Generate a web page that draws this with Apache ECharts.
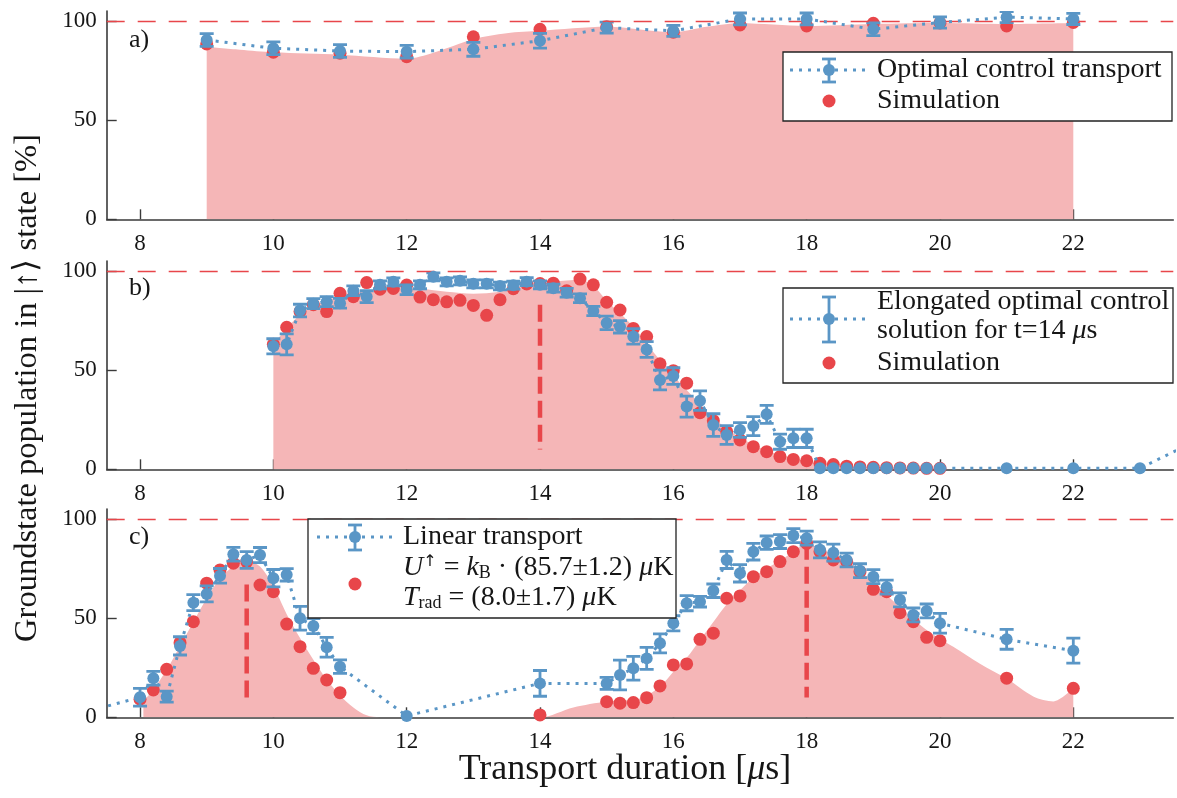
<!DOCTYPE html>
<html><head><meta charset="utf-8">
<script src="https://cdn.jsdelivr.net/npm/echarts@6/dist/echarts.min.js"></script>
<style>html,body{margin:0;padding:0;background:#fff}#c{width:1177px;height:798px}</style>
</head><body><div id="c"></div>
<script>
// ---------- tick labels ----------
const xTicks = [8, 10, 12, 14, 16, 18, 20, 22];
const yTicks = [0, 50, 100];

// ---------- panel a ----------
const aX    = [9, 10, 11, 12, 13, 14, 15, 16, 17, 18, 19, 20, 21, 22];
const aBlue = [90.4, 86.2, 84.8, 84.5, 85.7, 90, 96.6, 95, 101, 101, 95.8, 99.2, 101.9, 101];
const aErr  = [3.2, 3.2, 3.2, 3.2, 3.5, 3.7, 2.8, 2.8, 3, 3, 3.2, 2.8, 2.8, 2.8];
const aSim  = [88.4, 84.2, 83.7, 82, 92, 95.8, 97, 94.3, 98, 97.5, 98.8, 99, 97.5, 99.2];
const aFillX = [9, 9.5, 10, 11, 12, 12.4, 13, 13.5, 14, 15, 16, 16.5, 17, 18, 19, 20, 21, 22];
const aFillY = [87, 85.5, 84.2, 83, 81, 84, 90.8, 93.8, 95, 97, 94.3, 97, 98.8, 97.5, 98.5, 99, 98.5, 99];

// ---------- panel b ----------
const bX = [10.0, 10.2, 10.4, 10.6, 10.8, 11.0, 11.2, 11.4, 11.6, 11.8, 12.0, 12.2, 12.4, 12.6, 12.8,
            13.0, 13.2, 13.4, 13.6, 13.8, 14.0, 14.2, 14.4, 14.6, 14.8, 15.0, 15.2, 15.4, 15.6, 15.8,
            16.0, 16.2, 16.4, 16.6, 16.8, 17.0, 17.2, 17.4, 17.6, 17.8, 18.0, 18.2, 18.4, 18.6, 18.8,
            19.0, 19.2, 19.4, 19.6, 19.8, 20.0, 21, 22, 23, 24];
const bBlue = [62, 63, 80, 83.5, 84.5, 83.7, 90, 87, 93, 94.5, 90.5, 93, 97, 94.5, 95,
               93.5, 93.5, 92.4, 92.8, 94.6, 93, 91.3, 89, 86.2, 79.8, 73.8, 71.8, 67, 60.4, 45,
               47, 31.6, 34.6, 22.3, 17.3, 19.8, 21.8, 27.7, 13.9, 15.6, 15.6, 0.5, 0.5, 0.5, 0.5,
               0.5, 0.5, 0.5, 0.5, 0.5, 0.5, 0.5, 0.5, 0.5, 17];
const bErr  = [3.8, 5.3, 3.2, 2.5, 2.5, 2.5, 2.5, 3, 2, 2, 2.5, 2, 2, 2, 2,
               2, 2, 2, 2, 2, 2, 2, 2.2, 2.2, 2.3, 3.4, 3.1, 3.9, 4, 5,
               4.2, 5.3, 4.9, 5.7, 4.7, 3.7, 4.8, 4.5, 3.8, 4.6, 4.6, 0, 0, 0, 0,
               0, 0, 0, 0, 0, 0, 0, 0, 0, 0];
const bSimX = [10.0, 10.2, 10.4, 10.6, 10.8, 11.0, 11.2, 11.4, 11.6, 11.8, 12.0, 12.2, 12.4, 12.6, 12.8,
               13.0, 13.2, 13.4, 13.6, 13.8, 14.0, 14.2, 14.4, 14.6, 14.8, 15.0, 15.2, 15.4, 15.6, 15.8,
               16.0, 16.2, 16.4, 16.6, 16.8, 17.0, 17.2, 17.4, 17.6, 17.8, 18.0, 18.2, 18.4, 18.6, 18.8,
               19.0, 19.2, 19.4, 19.6, 19.8, 20.0];
const bSim  = [63, 71.6, 79.5, 83, 79.5, 88.7, 87, 94.1, 90.8, 91.2, 92.9, 86.8, 85.5, 84.4, 85.2,
               82.6, 77.6, 85.5, 91, 93.4, 93.6, 93.8, 90, 95.9, 93, 84.2, 80.3, 71, 66.9, 53.2,
               49.7, 43.4, 28.5, 24.5, 19, 14.8, 11.4, 8.9, 6.4, 5, 4.3, 3, 2.4, 1.6, 1.2,
               1, 0.8, 0.7, 0.6, 0.5, 0.5];
const bFillX = [10.0, 10.2, 10.4, 10.6, 10.8, 11.0, 11.4, 11.8, 12.2, 12.6, 13.0, 13.4, 13.8, 14.2,
                14.6, 14.8, 15.0, 15.4, 15.8, 16.2, 16.6, 17.0, 17.4, 17.8, 18.2, 18.6, 19.0, 20.0];
const bFillY = [63, 71, 78, 82.5, 85, 87.5, 90, 91.5, 91, 89.5, 88.5, 89.5, 92.5, 94.5,
                95.5, 92.5, 85, 72, 55, 40, 26, 16, 9.5, 5.5, 3, 1.6, 1, 0.5];
const bMark = [[14, 83, 10]];   // vertical marker: x, top, bottom

// ---------- panel c ----------
const cX = [7, 8.0, 8.2, 8.4, 8.6, 8.8, 9.0, 9.2, 9.4, 9.6, 9.8, 10.0, 10.2, 10.4, 10.6, 10.8, 11.0,
            12, 14, 15.0, 15.2, 15.4, 15.6, 15.8, 16.0, 16.2, 16.4, 16.6, 16.8, 17.0, 17.2, 17.4,
            17.6, 17.8, 18.0, 18.2, 18.4, 18.6, 18.8, 19.0, 19.2, 19.4, 19.6, 19.8, 20.0, 21, 22];
const cBlue = [1, 10.1, 19.7, 10.4, 36, 57.8, 62.2, 71.3, 82.2, 79.3, 81.8, 70.1, 71.8, 49.9, 46, 35.3, 25.5,
               0.7, 17.1, 17.1, 21.3, 24.7, 29.7, 37.3, 47.4, 57.5, 58.3, 63.8, 79.3, 72.6, 83.5, 88,
               88.6, 91.6, 90.3, 84.4, 83, 79.3, 73.9, 70.9, 65.6, 59.2, 51.6, 53.6, 47.4, 39.3, 33.6];
const cErr  = [0, 4.5, 3.5, 2.8, 4.6, 4, 4, 3.7, 3.5, 4.2, 3.8, 4.4, 3.1, 6, 3.8, 5, 3.4,
               0, 6.5, 3, 7.5, 6, 5.5, 4.8, 3.8, 3.8, 2.7, 3.4, 4.3, 4.4, 4.2, 3.4,
               3.5, 3.5, 3.5, 4, 4.3, 3.5, 3.5, 3.5, 3.5, 3.5, 3.5, 3.5, 5, 5, 6.3];
const cSimX = [8.0, 8.2, 8.4, 8.6, 8.8, 9.0, 9.2, 9.4, 9.6, 9.8, 10.0, 10.2, 10.4, 10.6, 10.8, 11.0,
               14, 15.0, 15.2, 15.4, 15.6, 15.8, 16.0, 16.2, 16.4, 16.6, 16.8, 17.0, 17.2, 17.4, 17.6,
               17.8, 18.0, 18.2, 18.4, 18.6, 18.8, 19.0, 19.2, 19.4, 19.6, 19.8, 20.0, 21, 22];
const cSim  = [9.1, 13.8, 24.2, 37.6, 48.2, 67.6, 74.3, 77.7, 78.5, 66.7, 63.3, 47, 35.6, 24.7, 18.8, 12.4,
               1.2, 7.9, 7.1, 7.4, 9.9, 15.8, 26.4, 26.9, 39.3, 42.4, 60, 61.2, 70.9, 73.4, 78.5,
               83.5, 87.7, 83.5, 79.3, 78.5, 73.4, 64.5, 63.3, 52.7, 48.2, 40.3, 38.6, 19.7, 14.6];
const cFillX = [8.05, 8.2, 8.4, 8.6, 8.8, 9.0, 9.2, 9.4, 9.6, 9.8, 10.0, 10.2, 10.4, 10.6, 10.8, 11.0,
                11.2, 11.4, 11.6, 14.0, 14.5, 15.0, 15.5, 15.8, 16.0, 16.2, 16.4, 16.6,
                16.8, 17.0, 17.2, 17.4, 17.6, 17.8, 18.0, 18.3, 18.6, 19.0, 19.4, 19.8, 20.2,
                20.6, 21.0, 21.4, 21.7, 22.0];
const cFillY = [8, 14, 24, 36, 48, 60, 70, 76, 78.5, 76, 66, 52, 40, 29, 19, 11,
                5, 1, 0, 0, 5, 8, 9.5, 15.5, 23, 30, 39, 48,
                57, 64, 70.5, 75, 79, 83.5, 87.5, 83.5, 79, 68, 55.5, 44, 35.5,
                27, 19.5, 10.5, 8, 14.6];
const cMark = [[9.6, 67, 10], [18, 88, 10]];

// ---------- styling ----------
const BLUE = '#5A96C6', RED = '#E8464A', PINK = '#F5B6B7', INK = '#161616', AX = '#3a3a3a';
const FONT = 'Liberation Serif';
const L = 106.7, W = 1066.6, H = 208.3, TOPS = [11, 261, 509];

const zip  = (xs, ys) => xs.map((x, i) => [x, ys[i]]);
const zip3 = (xs, ys, es) => xs.map((x, i) => [x, ys[i], es[i]]).filter(d => d[2] > 0);

function errItem(params, api) {
  const x = api.value(0), y = api.value(1), e = api.value(2);
  const lo = api.coord([x, y - e]), hi = api.coord([x, y + e]);
  const hw = 7, st = { stroke: BLUE, lineWidth: 2.8 };
  return { type: 'group', children: [
    { type: 'line', shape: { x1: lo[0], y1: lo[1], x2: hi[0], y2: hi[1] }, style: st },
    { type: 'line', shape: { x1: lo[0] - hw, y1: lo[1], x2: lo[0] + hw, y2: lo[1] }, style: st },
    { type: 'line', shape: { x1: hi[0] - hw, y1: hi[1], x2: hi[0] + hw, y2: hi[1] }, style: st }
  ]};
}
function markItem(params, api) {
  const x = api.value(0);
  const a = api.coord([x, api.value(1)]), b = api.coord([x, api.value(2)]);
  return { type: 'line', shape: { x1: a[0], y1: a[1], x2: b[0], y2: b[1] },
           style: { stroke: RED, lineWidth: 4.5, lineDash: [17, 7] } };
}

const grids = TOPS.map(t => ({ left: L, top: t, width: W, height: H }));
const xAxes = [0, 1, 2].map(i => ({
  gridIndex: i, type: 'value', min: 7.5, max: 23.5,
  axisLine: { show: true, onZero: false, lineStyle: { color: AX, width: 1.6 } },
  axisTick: { show: true, inside: true, length: 10, customValues: xTicks, lineStyle: { color: AX, width: 1.4 } },
  axisLabel: { customValues: xTicks, color: INK, fontFamily: FONT, fontSize: 23, margin: 13 },
  splitLine: { show: false }
}));
const yAxes = [0, 1, 2].map(i => ({
  gridIndex: i, type: 'value', min: 0, max: 105,
  axisLine: { show: true, onZero: false, lineStyle: { color: AX, width: 1.6 } },
  axisTick: { show: true, inside: true, length: 10, customValues: yTicks, lineStyle: { color: AX, width: 1.4 } },
  axisLabel: { customValues: yTicks, color: INK, fontFamily: FONT, fontSize: 23, margin: 10 },
  splitLine: { show: false }
}));

function panelSeries(i, fillX, fillY, simX, sim, X, blue, err, marks) {
  const s = [];
  s.push({ type: 'line', xAxisIndex: i, yAxisIndex: i, data: zip(fillX, fillY), smooth: 0.3,
           showSymbol: false, lineStyle: { width: 0 }, areaStyle: { color: PINK, opacity: 1 }, z: 1, silent: true });
  if (marks) s.push({ type: 'custom', xAxisIndex: i, yAxisIndex: i, data: marks, renderItem: markItem, z: 2, silent: true });
  s.push({ type: 'scatter', xAxisIndex: i, yAxisIndex: i, data: zip(simX, sim), symbolSize: 13,
           itemStyle: { color: RED, opacity: 1 }, z: 3, silent: true,
           markLine: { silent: true, symbol: 'none', label: { show: false }, animation: false,
                       lineStyle: { color: RED, width: 1.3, type: [18, 13] }, data: [{ yAxis: 100 }] } });
  s.push({ type: 'line', xAxisIndex: i, yAxisIndex: i, data: zip(X, blue), symbol: 'circle', symbolSize: 12,
           showAllSymbol: true, clip: true,
           itemStyle: { color: BLUE }, lineStyle: { color: BLUE, width: 3, type: [3, 6], cap: 'butt' }, z: 5, silent: true });
  s.push({ type: 'custom', xAxisIndex: i, yAxisIndex: i, data: zip3(X, blue, err), renderItem: errItem, clip: true, z: 4, silent: true });
  return s;
}

const series = [].concat(
  panelSeries(0, aFillX, aFillY, aX, aSim, aX, aBlue, aErr, null),
  panelSeries(1, bFillX, bFillY, bSimX, bSim, bX, bBlue, bErr, bMark),
  panelSeries(2, cFillX, cFillY, cSimX, cSim, cX, cBlue, cErr, cMark)
);

// ---------- legends & labels (graphic) ----------
const TS = 28;
function txt(x, y, text, rich, size) {
  return { type: 'text', x: x, y: y, z: 101,
    style: { text: text, fontFamily: FONT, fontSize: size || TS, fill: INK, verticalAlign: 'middle', align: 'left',
             rich: rich || {} } };
}
function icon(cx, cy, eTop, eBot, redY, lx0, lx1) {
  const st = { stroke: BLUE, lineWidth: 2.8 };
  return [
    { type: 'line', z: 101, shape: { x1: lx0, y1: cy, x2: lx1, y2: cy }, style: { stroke: BLUE, lineWidth: 3, lineDash: [3, 6] } },
    { type: 'line', z: 101, shape: { x1: cx, y1: eTop, x2: cx, y2: eBot }, style: st },
    { type: 'line', z: 101, shape: { x1: cx - 7, y1: eTop, x2: cx + 7, y2: eTop }, style: st },
    { type: 'line', z: 101, shape: { x1: cx - 7, y1: eBot, x2: cx + 7, y2: eBot }, style: st },
    { type: 'circle', z: 102, shape: { cx: cx, cy: cy, r: 6 }, style: { fill: BLUE } },
    { type: 'circle', z: 102, shape: { cx: cx, cy: redY, r: 6.5 }, style: { fill: RED } }
  ];
}
function box(x, y, w, h) {
  return { type: 'rect', z: 100, shape: { x: x, y: y, width: w, height: h }, style: { fill: '#fff', stroke: '#222', lineWidth: 1.3 } };
}
const richMath = {
  i: { fontStyle: 'italic', fontFamily: FONT, fontSize: TS },
  sup: { fontFamily: 'DejaVu Sans', fontSize: 16, verticalAlign: 'top', padding: [0, 0, 10, 0] },
  sub: { fontFamily: FONT, fontSize: 18, verticalAlign: 'bottom', padding: [8, 0, 0, 0] }
};

const graphic = [].concat(
  [box(783, 52, 389, 69)],
  icon(829, 70, 59, 82, 101, 790, 870),
  [txt(877, 70, 'Optimal control transport'), txt(877, 101, 'Simulation')],
  [box(783, 288, 390, 95)],
  icon(829, 319, 297, 342, 363, 790, 866),
  [txt(877, 302, 'Elongated optimal control'), txt(877, 331, 'solution for t=14 {i|μ}s', richMath), txt(877, 363, 'Simulation')],
  [box(308, 519, 368, 99)],
  icon(355, 537, 525, 550, 584, 317, 397),
  [txt(403, 537, 'Linear transport'),
   txt(403, 568, '{i|U}{sup|↑} = {i|k}{sub|B} · (85.7±1.2) {i|μ}K', richMath),
   txt(403, 598, '{i|T}{sub|rad} = (8.0±1.7) {i|μ}K', richMath)],
  [txt(129, 40, 'a)', null, 26), txt(129, 288, 'b)', null, 26), txt(129, 537, 'c)', null, 26)],
  [{ type: 'text', z: 101, x: 625, y: 770,
     style: { text: 'Transport duration [{i|μ}s]', fontFamily: FONT, fontSize: 36, fill: INK, align: 'center', verticalAlign: 'middle',
              rich: { i: { fontStyle: 'italic', fontFamily: FONT, fontSize: 36 } } } },
   { type: 'text', z: 101, x: 27, y: 388, rotation: Math.PI / 2,
     style: { text: 'Groundstate population in |↑⟩ state [%]', fontFamily: FONT, fontSize: 32.5, fill: INK, align: 'center', verticalAlign: 'middle' } }]
);

const chart = echarts.init(document.getElementById('c'), null, { renderer: 'canvas' });
chart.setOption({
  animation: false,
  backgroundColor: '#fff',
  grid: grids, xAxis: xAxes, yAxis: yAxes,
  series: series,
  graphic: graphic
});
</script></body></html>
